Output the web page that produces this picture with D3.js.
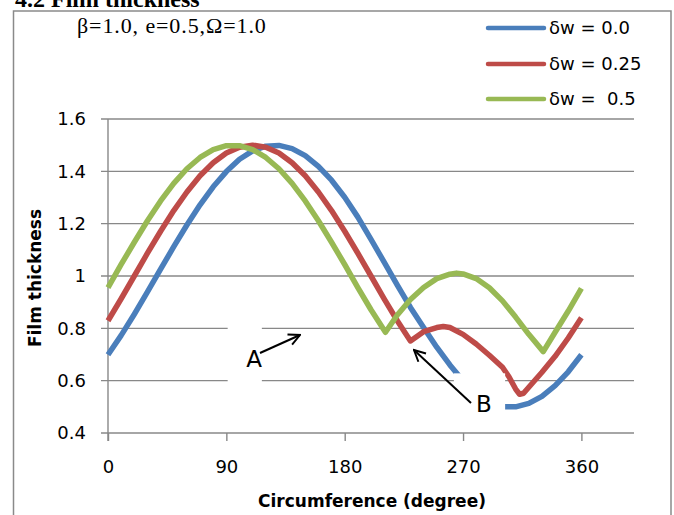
<!DOCTYPE html>
<html>
<head>
<meta charset="utf-8">
<script src="https://cdn.jsdelivr.net/npm/d3@7"></script>
<style>
  body { margin: 0; background: #fff; }
  svg { display: block; }
</style>
</head>
<body>
<div id="chart"></div>
<script>
// values (degree, film thickness)
const blueDeg = [0,10,20,30,40,50,60,70,80,90,100,110,120,130,140,150,160,170,180,190,200,210,220,230,240,250,260,270,280,290,300,310,320,330,340,350,360];
const blueH   = [0.699,0.773,0.854,0.939,1.026,1.112,1.195,1.272,1.341,1.399,1.446,1.478,1.496,1.499,1.487,1.46,1.419,1.366,1.301,1.225,1.14,1.053,0.965,0.88,0.803,0.728,0.66,0.6,0.55,0.515,0.5,0.5,0.513,0.54,0.581,0.634,0.699];

const redDeg = [0,10,20,30,40,50,60,70,80,90,100,110,120,130,140,150,160,170,180,190,200,210,220,230,240,250,255,260,270,280,290,300,305,310,313,316,320,330,340,350,360];
const redH   = [0.829,0.913,1.0,1.087,1.171,1.25,1.321,1.383,1.433,1.47,1.492,1.5,1.492,1.47,1.433,1.383,1.321,1.25,1.171,1.087,1.0,0.913,0.829,0.752,0.787,0.803,0.807,0.803,0.777,0.74,0.697,0.651,0.614,0.568,0.548,0.552,0.575,0.632,0.693,0.763,0.84];

const greenDeg = [0,10,20,30,40,50,60,70,80,90,100,110,120,130,140,150,160,170,180,190,200,211,220,230,240,250,260,265,270,280,290,300,310,320,331,340,350,360];
const greenH   = [0.956,1.044,1.129,1.211,1.287,1.354,1.41,1.453,1.483,1.498,1.498,1.483,1.453,1.41,1.354,1.287,1.211,1.129,1.044,0.956,0.871,0.785,0.851,0.91,0.956,0.99,1.007,1.011,1.008,0.99,0.955,0.905,0.843,0.777,0.711,0.785,0.866,0.953];

const seriesNames = ["δw = 0.0", "δw = 0.25", "δw =  0.5"];
const seriesColors = ["#4a7ebb", "#be4b48", "#98b954"];
const xTicks = [0, 90, 180, 270, 360];
const yTicks = [0.4, 0.6, 0.8, 1, 1.2, 1.4, 1.6];

const W = 674, H = 515;
const sans = "'DejaVu Sans', sans-serif";
const serif = "'Liberation Serif', 'Times New Roman', serif";

const svg = d3.select("#chart").append("svg")
    .attr("width", W)
    .attr("height", H);

// outer frame of the chart box
svg.append("rect")
    .attr("x", 13.5).attr("y", 11)
    .attr("width", 657.5).attr("height", 600)
    .attr("fill", "none")
    .attr("stroke", "#8a8a8a")
    .attr("stroke-width", 1.5);

// section heading, cut off at the top of the picture (as in the scan)
svg.append("text")
    .attr("x", 15).attr("y", 7)
    .attr("font-family", serif)
    .attr("font-weight", "bold")
    .attr("font-size", "24px")
    .text("4.2 Film thickness");

const x = d3.scaleLinear().domain([0, 400]).range([108, 634]);
const y = d3.scaleLinear().domain([0.4, 1.6]).range([433, 119]);

// gridlines
svg.append("g")
  .selectAll("line")
  .data(yTicks)
  .enter().append("line")
    .attr("x1", 101).attr("x2", x(400))
    .attr("y1", d => y(d)).attr("y2", d => y(d))
    .attr("stroke", "#888")
    .attr("stroke-width", 1.4);

// y axis line
svg.append("line")
    .attr("x1", x(0)).attr("x2", x(0))
    .attr("y1", y(1.6)).attr("y2", y(0.4) + 8)
    .attr("stroke", "#888")
    .attr("stroke-width", 1.4);

const yAxis = svg.append("g")
    .attr("transform", `translate(${x(0)},0)`)
    .call(d3.axisLeft(y).tickValues(yTicks).tickSize(0).tickPadding(22)
      .tickFormat(d => d3.format("")(d)));
yAxis.select(".domain").remove();

const xAxis = svg.append("g")
    .attr("transform", `translate(0,${y(0.4)})`)
    .call(d3.axisBottom(x).tickValues(xTicks).tickSize(8).tickPadding(19));
xAxis.select(".domain").remove();
xAxis.selectAll(".tick line").attr("stroke", "#888").attr("stroke-width", 1.4);

svg.selectAll(".tick text")
    .attr("font-family", sans)
    .attr("font-size", "18px")
    .attr("fill", "#000");

// axis titles
svg.append("text")
    .attr("x", 372).attr("y", 507)
    .attr("text-anchor", "middle")
    .attr("font-family", sans)
    .attr("font-weight", "bold")
    .attr("font-size", "17px")
    .text("Circumference (degree)");

svg.append("text")
    .attr("transform", "translate(41,278) rotate(-90)")
    .attr("text-anchor", "middle")
    .attr("font-family", sans)
    .attr("font-weight", "bold")
    .attr("font-size", "17px")
    .text("Film thickness");

// the curves
const line = d3.line()
    .x(d => x(d[0]))
    .y(d => y(d[1]));

const series = [
  d3.zip(blueDeg, blueH),
  d3.zip(redDeg, redH),
  d3.zip(greenDeg, greenH)
];

svg.append("g")
  .selectAll("path")
  .data(series)
  .enter().append("path")
    .attr("d", line)
    .attr("fill", "none")
    .attr("stroke", (d, i) => seriesColors[i])
    .attr("stroke-width", 5.5)
    .attr("stroke-linejoin", "round");

// white label boxes of the annotations (they hide parts of lines)
svg.append("rect")
    .attr("x", x(91)).attr("y", y(0.84))
    .attr("width", x(117) - x(91)).attr("height", y(0.57) - y(0.84))
    .attr("fill", "#fff");
svg.append("rect")
    .attr("x", x(263)).attr("y", y(0.628))
    .attr("width", x(302) - x(263)).attr("height", y(0.47) - y(0.628))
    .attr("fill", "#fff");

// annotation A and B with arrows
svg.append("defs").append("marker")
    .attr("id", "head")
    .attr("viewBox", "0 0 10 10")
    .attr("refX", 9).attr("refY", 5)
    .attr("markerWidth", 14).attr("markerHeight", 14)
    .attr("markerUnits", "userSpaceOnUse")
    .attr("orient", "auto")
  .append("path")
    .attr("d", "M1,1 L9,5 L1,9")
    .attr("fill", "none")
    .attr("stroke", "#000")
    .attr("stroke-width", 1.4);

svg.append("line")
    .attr("x1", 260).attr("y1", 353)
    .attr("x2", 300).attr("y2", 335)
    .attr("stroke", "#000").attr("stroke-width", 2)
    .attr("marker-end", "url(#head)");
svg.append("line")
    .attr("x1", 471).attr("y1", 403)
    .attr("x2", 414).attr("y2", 350)
    .attr("stroke", "#000").attr("stroke-width", 2)
    .attr("marker-end", "url(#head)");

svg.append("text")
    .attr("x", 254).attr("y", 367)
    .attr("text-anchor", "middle")
    .attr("font-family", sans)
    .attr("font-size", "23px")
    .text("A");
svg.append("text")
    .attr("x", 484).attr("y", 412)
    .attr("text-anchor", "middle")
    .attr("font-family", sans)
    .attr("font-size", "23px")
    .text("B");

// parameters
svg.append("text")
    .attr("x", 77).attr("y", 33)
    .attr("font-family", serif)
    .attr("font-size", "22px")
    .attr("letter-spacing", "0.9px")
    .text("β=1.0, e=0.5,Ω=1.0");

// legend
const legendY = [28, 64, 99];
const legend = svg.append("g")
  .selectAll("g")
  .data(seriesNames)
  .enter().append("g")
    .attr("transform", (d, i) => `translate(0,${legendY[i]})`);

legend.append("line")
    .attr("x1", 488).attr("x2", 544)
    .attr("stroke", (d, i) => seriesColors[i])
    .attr("stroke-width", 4.5)
    .attr("stroke-linecap", "round");

legend.append("text")
    .attr("x", 549)
    .attr("dy", "0.35em")
    .attr("font-family", sans)
    .attr("font-size", "18px")
    .style("white-space", "pre")
    .text(d => d);
</script>
</body>
</html>
